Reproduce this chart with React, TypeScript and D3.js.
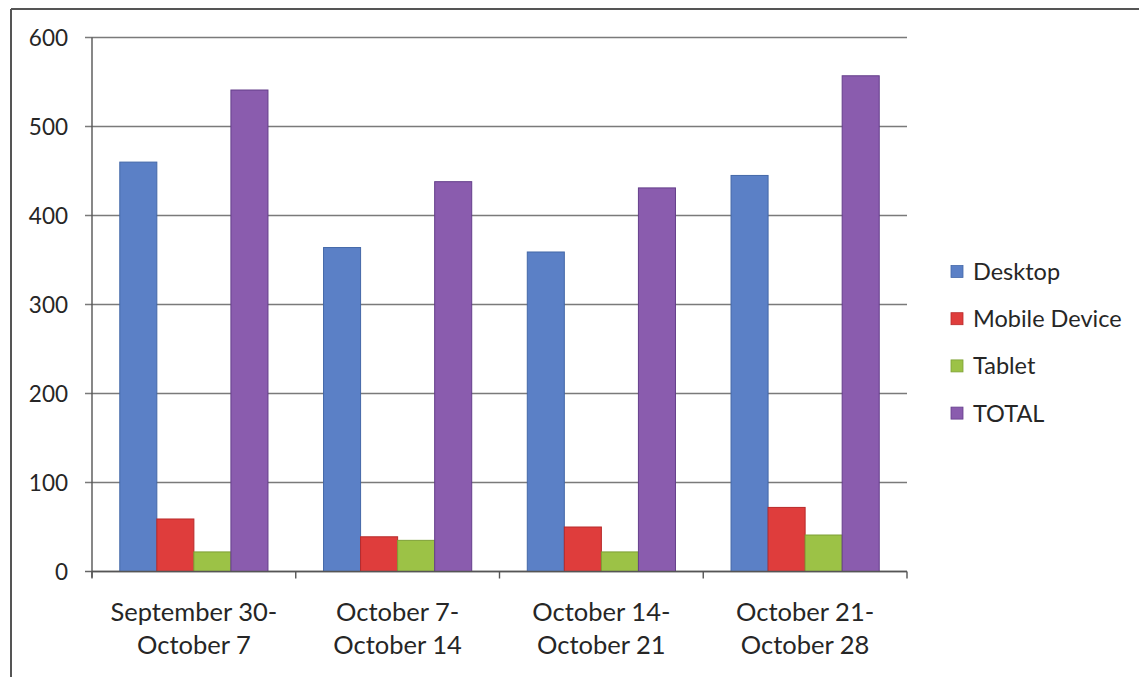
import React from "react";
import * as d3 from "d3";

const categories = [
  ["September 30-", "October 7"],
  ["October 7-", "October 14"],
  ["October 14-", "October 21"],
  ["October 21-", "October 28"],
];
const seriesNames = ["Desktop", "Mobile Device", "Tablet", "TOTAL"];
const desktop = [460, 364, 359, 445];
const mobile = [59, 39, 50, 72];
const tablet = [22, 35, 22, 41];
const total = [541, 438, 431, 557];
const yTicks = [0, 100, 200, 300, 400, 500, 600];
const colors = ["#5b80c6", "#df3d3c", "#9cc246", "#8a5cae"];
const strokes = ["#4468a8", "#b82a2a", "#7ea035", "#643e8a"];

const W = 1139;
const H = 677;
const plot = { left: 92, right: 907, top: 37.5, bottom: 571.5 };
const font = "Lato, 'Open Sans', sans-serif";

export default function App() {
  const series = [desktop, mobile, tablet, total];
  const x0 = d3
    .scaleBand<number>()
    .domain(d3.range(categories.length))
    .range([plot.left, plot.right])
    .padding(0);
  const x1 = d3
    .scaleBand<number>()
    .domain(d3.range(series.length))
    .range([0, x0.bandwidth()])
    .paddingInner(0)
    .paddingOuter(0.75);
  const y = d3.scaleLinear().domain([0, 600]).range([plot.bottom, plot.top]);

  const boundaries = d3.range(categories.length + 1).map((i) =>
    i < categories.length ? (x0(i) as number) : plot.right
  );

  return (
    <svg
      width={W}
      height={H}
      style={{ position: "absolute", left: 0, top: 0, background: "#fff" }}
      fontFamily={font}
    >
      {/* outer frame */}
      <line x1={11} y1={9} x2={W} y2={9} stroke="#555" strokeWidth={2} />
      <line x1={11} y1={9} x2={11} y2={H} stroke="#555" strokeWidth={2} />

      {/* gridlines and y ticks */}
      {yTicks.map((t) => (
        <g key={t}>
          <line
            x1={plot.left - 7}
            x2={plot.right}
            y1={y(t)}
            y2={y(t)}
            stroke={t === 0 ? "#666" : "#7a7a7a"}
            strokeWidth={1.3}
          />
          <text
            x={68}
            y={y(t)}
            dy="0.36em"
            textAnchor="end"
            fontSize={22.5}
            fill="#262626"
          >
            {t}
          </text>
        </g>
      ))}

      {/* bars */}
      {series.map((vals, s) =>
        vals.map((v, i) => (
          <rect
            key={`${s}-${i}`}
            x={(x0(i) as number) + (x1(s) as number)}
            y={y(v)}
            width={x1.bandwidth()}
            height={y(0) - y(v)}
            fill={colors[s]}
            stroke={strokes[s]}
            strokeWidth={1}
          />
        ))
      )}

      {/* axes */}
      <line
        x1={plot.left}
        x2={plot.left}
        y1={plot.top}
        y2={plot.bottom + 6}
        stroke="#555"
        strokeWidth={1.4}
      />
      <line
        x1={plot.left}
        x2={plot.right}
        y1={plot.bottom}
        y2={plot.bottom}
        stroke="#555"
        strokeWidth={1.4}
      />
      {boundaries.map((bx, i) => (
        <line
          key={i}
          x1={bx}
          x2={bx}
          y1={plot.bottom}
          y2={plot.bottom + 7}
          stroke="#555"
          strokeWidth={1.4}
        />
      ))}

      {/* category labels */}
      {categories.map((lines, i) => (
        <text
          key={i}
          x={(x0(i) as number) + x0.bandwidth() / 2}
          y={612}
          textAnchor="middle"
          fontSize={25.5}
          fill="#262626"
        >
          {lines.map((l, k) => (
            <tspan key={k} x={(x0(i) as number) + x0.bandwidth() / 2} dy={k === 0 ? "0.36em" : 33}>
              {l}
            </tspan>
          ))}
        </text>
      ))}

      {/* legend */}
      {seriesNames.map((name, s) => (
        <g key={name} transform={`translate(951, ${271.5 + s * 47.2})`}>
          <rect x={0} y={-6} width={12} height={12} fill={colors[s]} stroke={strokes[s]} strokeWidth={0.8} />
          <text x={22} y={0} dy="0.36em" fontSize={23.5} fill="#262626">
            {name}
          </text>
        </g>
      ))}
    </svg>
  );
}
